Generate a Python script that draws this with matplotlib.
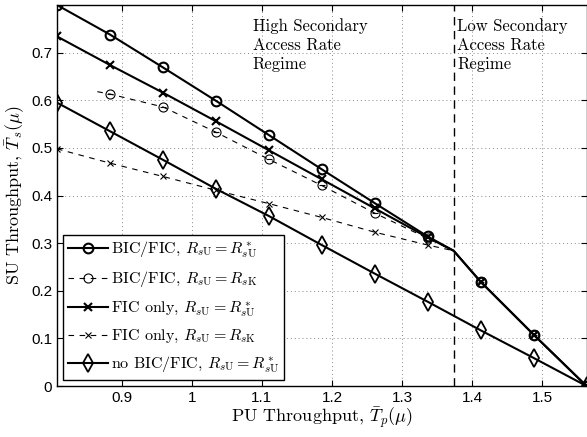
import matplotlib
matplotlib.use("Agg")
import matplotlib.pyplot as plt
import numpy as np

plt.rcParams['mathtext.fontset'] = 'cm'

# PU throughput sample points (markers) and the regime boundary
x_pts = [0.8074, 0.8830, 0.9586, 1.0342, 1.1098, 1.1854, 1.2610, 1.3366, 1.4122, 1.4878, 1.5634]
x_kink = 1.3737
y_kink = 0.284

# SU throughput values
bic_opt = [0.800, 0.738, 0.669, 0.599, 0.527, 0.455, 0.384, 0.314, 0.219, 0.108, 0.0]
fic_opt = [0.734, 0.674, 0.616, 0.556, 0.495, 0.434, 0.373, 0.312, 0.219, 0.108, 0.0]
bic_k = [0.613, 0.586, 0.533, 0.476, 0.421, 0.363, 0.310, 0.219, 0.108, 0.0]  # from x_pts[1]
fic_k = [0.498, 0.468, 0.440, 0.411, 0.383, 0.354, 0.323, 0.296, 0.219, 0.108, 0.0]
no_bic = [0.595, 0.535, 0.475, 0.414, 0.357, 0.296, 0.236, 0.177, 0.117, 0.059, 0.0]
bic_k_start = (0.865, 0.618)

xticks = [0.9, 1.0, 1.1, 1.2, 1.3, 1.4, 1.5]
xtick_labels = ['0.9', '1', '1.1', '1.2', '1.3', '1.4', '1.5']
yticks = [0, 0.1, 0.2, 0.3, 0.4, 0.5, 0.6, 0.7]
ytick_labels = ['0', '0.1', '0.2', '0.3', '0.4', '0.5', '0.6', '0.7']

serif = 'cmr10'


def with_kink(xs, ys):
    # add the regime boundary point (no marker) between the samples around it
    n = sum(1 for v in xs if v < x_kink)
    xx = list(xs[:n]) + [x_kink] + list(xs[n:])
    yy = list(ys[:n]) + [y_kink] + list(ys[n:])
    marks = [i for i in range(len(xx)) if i != n]
    return xx, yy, marks


fig = plt.figure(figsize=(5.87, 4.37), dpi=100)
ax = fig.add_axes([57 / 587, 1 - 386 / 437, 529.5 / 587, 381 / 437])

dash = (0, (5, 5))

# BIC/FIC, R_sK (dashed circles)
xx, yy, mk = with_kink(x_pts[1:], bic_k)
xx = [bic_k_start[0]] + xx
yy = [bic_k_start[1]] + yy
mk = [i + 1 for i in mk]
h2, = ax.plot(xx, yy, color='k', lw=0.8, linestyle=dash, marker='o', markevery=mk,
              ms=6.5, mfc='none', mew=0.8)
ax.plot([xx[i] for i in mk], [yy[i] for i in mk], linestyle='none', marker='_',
        ms=4.5, color='k', mew=0.8)

# FIC only, R_sK (dashed x)
xx, yy, mk = with_kink(x_pts, fic_k)
h4, = ax.plot(xx, yy, color='k', lw=0.8, linestyle=dash, marker='x', markevery=mk,
              ms=5, mew=0.8)

# no BIC/FIC
h5, = ax.plot(x_pts, no_bic, color='k', lw=1.5, marker='d', ms=9, mfc='none', mew=1.3)

# FIC only, R* (solid x)
xx, yy, mk = with_kink(x_pts, fic_opt)
h3, = ax.plot(xx, yy, color='k', lw=1.5, marker='x', markevery=mk, ms=5.5, mew=1.5)

# BIC/FIC, R* (solid circles)
xx, yy, mk = with_kink(x_pts, bic_opt)
h1, = ax.plot(xx, yy, color='k', lw=1.5, marker='o', markevery=mk, ms=7, mfc='none', mew=1.5)

# regime boundary
ax.axvline(x_kink, color='k', lw=1.0, linestyle=(0, (6, 4)))

ax.text(1.087, 0.772, 'High Secondary\nAccess Rate\nRegime', family=serif, fontsize=12,
        va='top', ha='left', linespacing=1.3)
ax.text(1.3785, 0.772, 'Low Secondary\nAccess Rate\nRegime', family=serif, fontsize=12,
        va='top', ha='left', linespacing=1.3)

ax.set_xlim(0.8074, 1.5634)
ax.set_ylim(0, 0.8)
ax.set_xticks(xticks)
ax.set_xticklabels(xtick_labels, family='Liberation Sans', fontsize=11)
ax.set_yticks(yticks)
ax.set_yticklabels(ytick_labels, family='Liberation Sans', fontsize=11)
ax.tick_params(direction='in', top=True, right=True, length=4, width=0.8)
ax.grid(True, color='#888888', linestyle=(0, (1, 3)), lw=0.7)
for s in ax.spines.values():
    s.set_linewidth(1.0)

ax.set_xlabel(r'PU Throughput, $\bar{T}_p(\mu)$', family=serif, fontsize=13, labelpad=1)
ax.set_ylabel(r'SU Throughput, $\bar{T}_s(\mu)$', family=serif, fontsize=13, labelpad=3)

labels = [r'BIC/FIC, $R_{s\mathrm{U}} = R^*_{s\mathrm{U}}$',
          r'BIC/FIC, $R_{s\mathrm{U}} = R_{s\mathrm{K}}$',
          r'FIC only, $R_{s\mathrm{U}} = R^*_{s\mathrm{U}}$',
          r'FIC only, $R_{s\mathrm{U}} = R_{s\mathrm{K}}$',
          r'no BIC/FIC, $R_{s\mathrm{U}} = R^*_{s\mathrm{U}}$']
leg = ax.legend([h1, h2, h3, h4, h5], labels, loc='lower left', bbox_to_anchor=(0.0, 0.0),
                borderaxespad=0.4, prop={'family': serif, 'size': 11.5}, handlelength=2.5,
                handletextpad=0.2, labelspacing=0.6, fancybox=False, framealpha=1,
                edgecolor='k', borderpad=0.3)
leg.get_frame().set_linewidth(1.0)

fig.savefig('out.png', dpi=100)
